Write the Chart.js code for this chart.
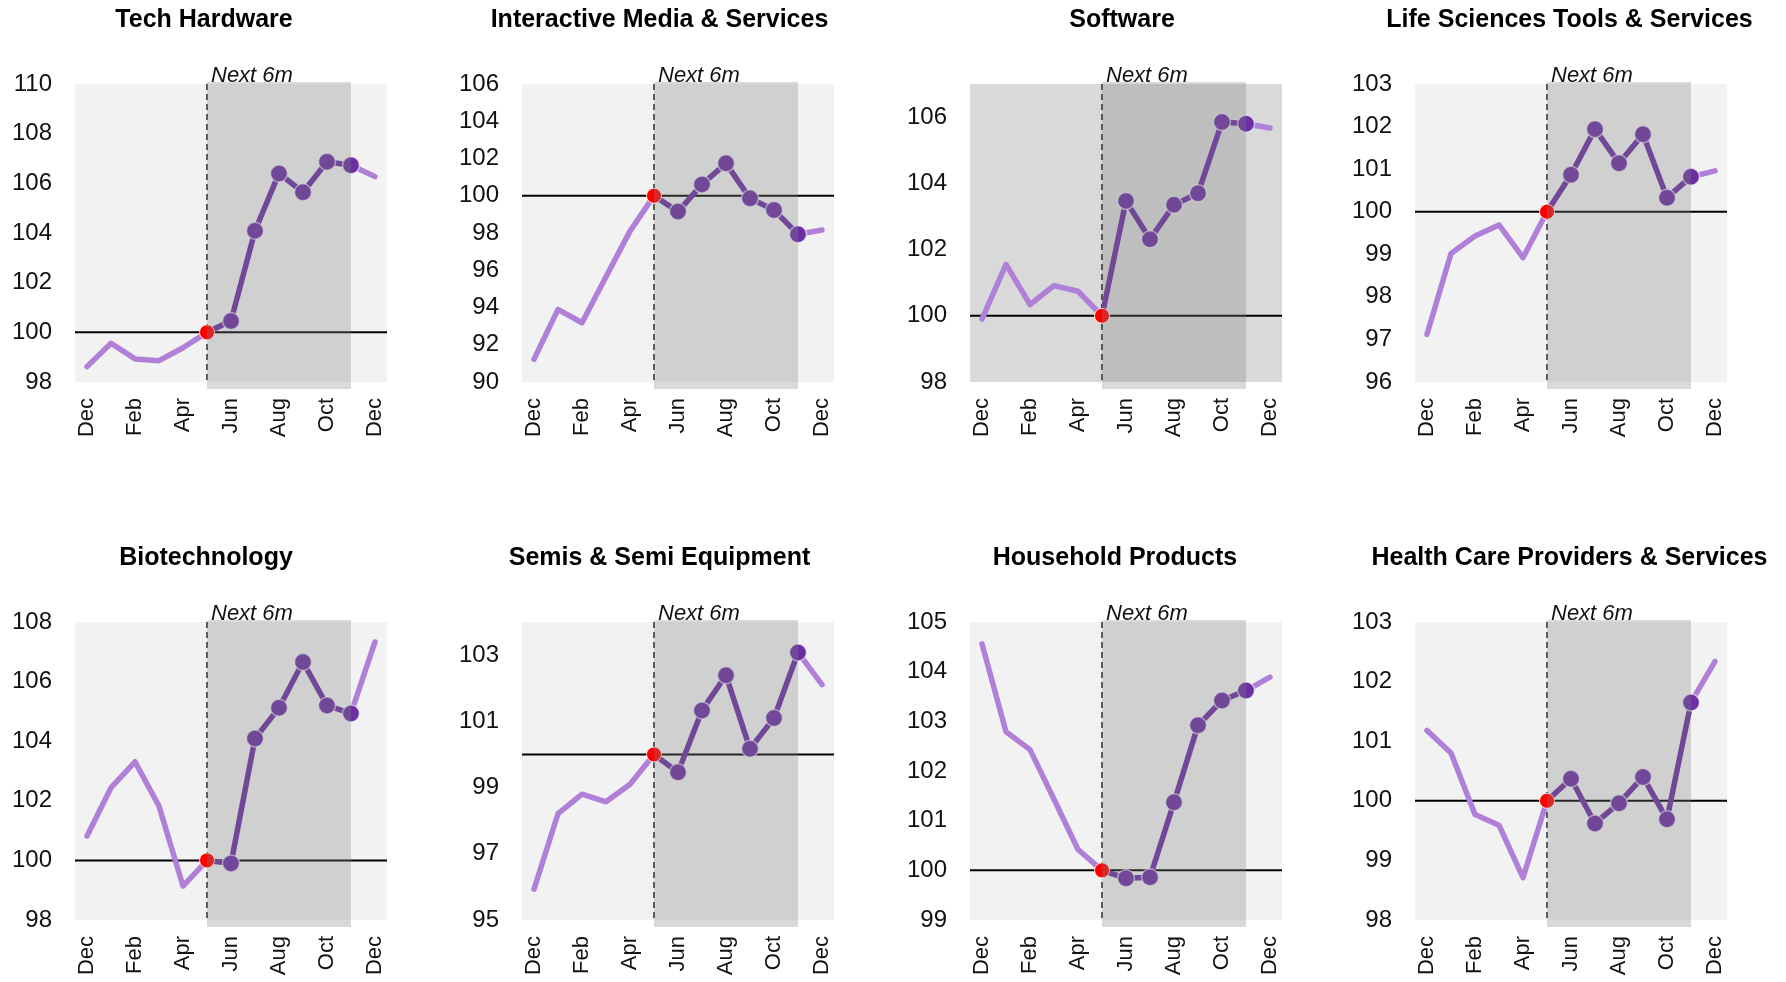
<!DOCTYPE html>
<html>
<head>
<meta charset="utf-8">
<script src="https://cdn.jsdelivr.net/npm/chart.js@4.4.1/dist/chart.umd.min.js"></script>
<style>
  body { margin: 0; background: #fff; }
  #wrap { position: relative; width: 1786px; height: 982px; overflow: hidden; }
  #wrap canvas { position: absolute; }
</style>
</head>
<body>
<div id="wrap"></div>
<script>
// months Dec -> Dec, the "next 6m" window is May (5) to Nov (11)
const months = ["Dec", "Jan", "Feb", "Mar", "Apr", "May", "Jun", "Jul", "Aug", "Sep", "Oct", "Nov", "Dec"];
const startIdx = 5;
const endIdx = 11;

const titles = [
    "Tech Hardware", "Interactive Media & Services", "Software", "Life Sciences Tools & Services",
    "Biotechnology", "Semis & Semi Equipment", "Household Products", "Health Care Providers & Services"
];

// indexed level, 100 = start of window
const techHardware = [98.62, 99.56, 98.93, 98.86, 99.38, 100, 100.46, 104.09, 106.40, 105.64, 106.87, 106.73, 106.27];
const interactiveMedia = [91.22, 93.90, 93.18, 95.65, 98.1, 100, 99.15, 100.61, 101.74, 99.86, 99.23, 97.93, 98.16];
const software = [99.90, 101.55, 100.34, 100.91, 100.74, 100, 103.47, 102.31, 103.35, 103.70, 105.85, 105.80, 105.67];
const lifeSciences = [97.12, 99.02, 99.43, 99.69, 98.92, 100, 100.87, 101.94, 101.14, 101.82, 100.33, 100.82, 100.96];
const biotech = [100.82, 102.44, 103.31, 101.82, 99.14, 100, 99.90, 104.09, 105.12, 106.66, 105.20, 104.93, 107.33];
const semis = [95.93, 98.21, 98.80, 98.57, 99.10, 100, 99.46, 101.33, 102.39, 100.17, 101.10, 103.08, 102.11];
const household = [104.56, 102.79, 102.43, 101.43, 100.42, 100, 99.84, 99.86, 101.37, 102.92, 103.42, 103.62, 103.89];
const healthCare = [101.18, 100.80, 99.77, 99.59, 98.71, 100, 100.37, 99.62, 99.96, 100.40, 99.69, 101.65, 102.34];

const series = [techHardware, interactiveMedia, software, lifeSciences, biotech, semis, household, healthCare];

const yTicks = [
    [98, 100, 102, 104, 106, 108, 110],
    [90, 92, 94, 96, 98, 100, 102, 104, 106],
    [98, 100, 102, 104, 106],
    [96, 97, 98, 99, 100, 101, 102, 103],
    [98, 100, 102, 104, 106, 108],
    [95, 97, 99, 101, 103],
    [99, 100, 101, 102, 103, 104, 105],
    [98, 99, 100, 101, 102, 103]
];
const yMin = [98, 90, 98, 96, 98, 95, 99, 98];
const yMax = [110, 106, 107, 103, 108, 104, 105, 103];

// layout (page pixels)
const colLeft = [0, 446, 892, 1338];
const colWidth = [446, 446, 446, 448];
const rowTop = [0, 538];
const plotLeft = [75, 522, 970, 1415];
const plotRight = [387, 834, 1282, 1727];
const titleCenter = [204, 659.5, 1122, 1569.5, 206, 659.5, 1115, 1569.5];
const canvasH = 444;

const lightPurple = "#b07fd8";
const darkPurple = "#6b2fa3";
const font = '"Liberation Sans", Arial, sans-serif';

const decor = {
    id: "decor",
    beforeDatasetsDraw(chart, args, o) {
        const { ctx, chartArea: a, scales: { x, y } } = chart;
        ctx.save();
        ctx.fillStyle = o.bg;
        ctx.fillRect(a.left, a.top, a.right - a.left, a.bottom - a.top);
        const y100 = y.getPixelForValue(100);
        ctx.strokeStyle = "#000";
        ctx.lineWidth = 2;
        ctx.beginPath();
        ctx.moveTo(a.left, y100);
        ctx.lineTo(a.right, y100);
        ctx.stroke();
        const xs = x.getPixelForValue(startIdx);
        ctx.setLineDash([6, 4]);
        ctx.lineWidth = 1.5;
        ctx.strokeStyle = "#222";
        ctx.beginPath();
        ctx.moveTo(xs, a.top);
        ctx.lineTo(xs, a.bottom);
        ctx.stroke();
        ctx.restore();
    },
    afterDatasetsDraw(chart, args, o) {
        const { ctx, chartArea: a, scales: { x } } = chart;
        const xs = x.getPixelForValue(startIdx);
        const xe = x.getPixelForValue(endIdx);
        ctx.save();
        ctx.fillStyle = "rgba(130,130,130,0.3)";
        ctx.fillRect(xs, a.top - 2, xe - xs, a.bottom - a.top + 9);
        ctx.fillStyle = "#111";
        ctx.font = "italic 22px " + font;
        ctx.textAlign = "left";
        ctx.textBaseline = "alphabetic";
        ctx.fillText("Next 6m", xs + 4, a.top - 2);
        // panel title
        ctx.font = "bold 25px " + font;
        ctx.textAlign = "center";
        ctx.fillStyle = "#000";
        ctx.fillText(o.title, o.titleX, 27);
        ctx.restore();
    }
};

const wrap = document.getElementById("wrap");

series.forEach((vals, i) => {
    const col = i % 4;
    const row = Math.floor(i / 4);
    const W = colWidth[col];
    const cl = plotLeft[col] - colLeft[col];
    const cr = plotRight[col] - colLeft[col];

    const canvas = document.createElement("canvas");
    canvas.width = W;
    canvas.height = canvasH;
    canvas.style.left = colLeft[col] + "px";
    canvas.style.top = rowTop[row] + "px";
    canvas.style.width = W + "px";
    canvas.style.height = canvasH + "px";
    wrap.appendChild(canvas);

    const history = vals.map((v, k) => (k <= startIdx ? v : null));
    const forecast = vals.map((v, k) => (k >= startIdx && k <= endIdx ? v : null));
    const tail = vals.map((v, k) => (k >= endIdx ? v : null));
    const start = vals.map((v, k) => (k === startIdx ? v : null));

    new Chart(canvas.getContext("2d"), {
        type: "line",
        data: {
            labels: months,
            datasets: [
                {
                    data: start,
                    showLine: false,
                    pointRadius: 7.5,
                    pointBackgroundColor: "#ff0000",
                    pointBorderColor: "rgba(255,255,255,0.8)",
                    pointBorderWidth: 1,
                    order: 0
                },
                {
                    data: forecast,
                    borderColor: darkPurple,
                    borderWidth: 5.5,
                    pointRadius: (c) => (c.dataIndex === startIdx ? 0 : 8.5),
                    pointBackgroundColor: darkPurple,
                    pointBorderColor: "rgba(255,255,255,0.6)",
                    pointBorderWidth: 1.5,
                    order: 1
                },
                {
                    data: history,
                    borderColor: lightPurple,
                    borderWidth: 5.5,
                    pointRadius: 0,
                    order: 2
                },
                {
                    data: tail,
                    borderColor: lightPurple,
                    borderWidth: 5.5,
                    pointRadius: 0,
                    order: 3
                }
            ]
        },
        options: {
            responsive: false,
            animation: false,
            events: [],
            spanGaps: false,
            elements: { line: { tension: 0, borderCapStyle: "round", borderJoinStyle: "round" } },
            layout: { padding: { top: 84, left: 0, right: W - cr, bottom: 0 } },
            plugins: {
                legend: { display: false },
                tooltip: { enabled: false },
                decor: {
                    bg: i === 2 ? "#d9d9d9" : "#f2f2f2",
                    title: titles[i],
                    titleX: titleCenter[i] - colLeft[col]
                }
            },
            scales: {
                x: {
                    type: "category",
                    offset: true,
                    grid: { display: false, drawTicks: false },
                    border: { display: false },
                    afterFit: (s) => { s.height = 62; },
                    ticks: {
                        autoSkip: false,
                        maxRotation: 90,
                        minRotation: 90,
                        padding: 16,
                        color: "#111",
                        font: { family: font, size: 22 },
                        callback: (v, k) => (k % 2 === 0 ? months[k] : "")
                    }
                },
                y: {
                    min: yMin[i],
                    max: yMax[i],
                    grid: { display: false, drawTicks: false },
                    border: { display: false },
                    afterFit: (s) => { s.width = cl; },
                    afterBuildTicks: (s) => { s.ticks = yTicks[i].map((v) => ({ value: v })); },
                    ticks: {
                        padding: 23,
                        color: "#111",
                        font: { family: font, size: 24 }
                    }
                }
            }
        },
        plugins: [decor]
    });
});
</script>
</body>
</html>
